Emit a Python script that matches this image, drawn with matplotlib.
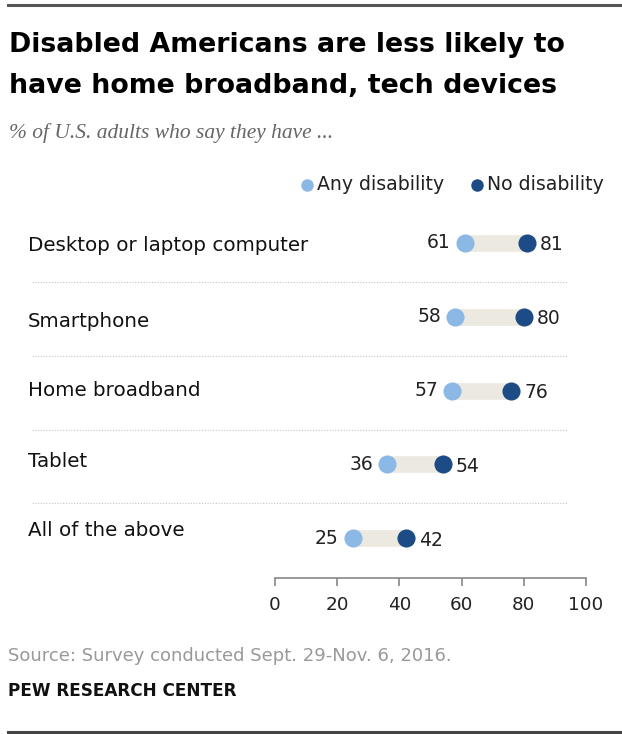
import matplotlib.pyplot as plt
from matplotlib.transforms import blended_transform_factory
from matplotlib.lines import Line2D

# data
categories = ["Desktop or laptop computer", "Smartphone", "Home broadband",
              "Tablet", "All of the above"]
any_disability = [61, 58, 57, 36, 25]
no_disability = [81, 80, 76, 54, 42]
ticks = [0, 20, 40, 60, 80, 100]

light = "#8cb8e6"
dark = "#1d4b85"
band = "#ece9e1"
sans = "DejaVu Sans"

W, H = 622, 734
fig = plt.figure(figsize=(W / 100, H / 100), dpi=100)

def fy(py):
    return 1 - py / H

# axes: x 0..100 -> px 275..586, rows at px 243 + 73.75*i
row0, step = 243, 73.75
ax_top, ax_bot = 215, 578
ax = fig.add_axes([275 / W, fy(ax_bot), 311 / W, (ax_bot - ax_top) / H])
ax.set_xlim(0, 100)
ax.set_ylim((ax_bot - row0) / step, (ax_top - row0) / step)

ypos = list(range(len(categories)))
for i in ypos:
    a, b = any_disability[i], no_disability[i]
    ax.plot([a, b], [i, i], color=band, lw=12, solid_capstyle="butt", zorder=1)
    ax.scatter([a], [i], s=170, color=light, zorder=3, linewidths=0)
    ax.scatter([b], [i], s=170, color=dark, zorder=3, linewidths=0)
    ax.annotate(str(a), (a, i), xytext=(-14, 0), textcoords="offset pixels",
                ha="right", va="center", fontsize=13.5, family=sans, color="#222222")
    ax.annotate(str(b), (b, i), xytext=(13, -2), textcoords="offset pixels",
                ha="left", va="center", fontsize=13.5, family=sans, color="#222222")

# row labels and dotted separators
tr = blended_transform_factory(fig.transFigure, ax.transData)
label_dy = [0.03, 0.06, 0.0, -0.04, -0.1]
for i, cat in enumerate(categories):
    ax.text(28 / W, i + label_dy[i], cat, transform=tr, ha="left", va="center",
            fontsize=14.3, color="#111111", family=sans)
for i in range(len(categories) - 1):
    ax.add_line(Line2D([32 / W, 568 / W], [i + 0.53, i + 0.53], transform=tr,
                       color="#c4c4c4", lw=0.8, ls=(0, (1, 1.5)), clip_on=False))

# x axis
for s in ["top", "right", "left"]:
    ax.spines[s].set_visible(False)
ax.spines["bottom"].set_color("#888888")
ax.spines["bottom"].set_linewidth(1.2)
ax.set_xticks(ticks)
ax.set_xticklabels([str(t) for t in ticks], fontsize=13.2, family=sans, color="#222222")
ax.tick_params(axis="x", length=6, color="#888888", width=1.2, pad=7)
ax.set_yticks([])

# legend
fig.add_artist(Line2D([307 / W], [fy(185)], marker="o", ms=9, color=light, mec="none"))
fig.text(317 / W, fy(185), "Any disability", fontsize=13.6, family=sans,
         color="#222222", ha="left", va="center")
fig.add_artist(Line2D([477 / W], [fy(185)], marker="o", ms=9, color=dark, mec="none"))
fig.text(487 / W, fy(185), "No disability", fontsize=13.6, family=sans,
         color="#222222", ha="left", va="center")

# titles
fig.text(9 / W, fy(45), "Disabled Americans are less likely to", fontsize=19.3,
         fontweight="bold", family=sans, ha="left", va="center", color="#000000")
fig.text(9 / W, fy(86), "have home broadband, tech devices", fontsize=19.3,
         fontweight="bold", family=sans, ha="left", va="center", color="#000000")
fig.text(9 / W, fy(133), "% of U.S. adults who say they have ...", fontsize=15.5,
         style="italic", family="Liberation Serif", ha="left", va="center", color="#666666")

fig.text(8 / W, fy(656), "Source: Survey conducted Sept. 29-Nov. 6, 2016.", fontsize=13,
         family=sans, ha="left", va="center", color="#999999")
fig.text(8 / W, fy(691), "PEW RESEARCH CENTER", fontsize=12.2, fontweight="bold",
         family=sans, ha="left", va="center", color="#111111")

# rules top and bottom
fig.add_artist(Line2D([8 / W, 1], [fy(5), fy(5)], color="#555555", lw=2.2))
fig.add_artist(Line2D([8 / W, 1], [fy(732), fy(732)], color="#444444", lw=2.2))

fig.savefig("out.png", dpi=100)
